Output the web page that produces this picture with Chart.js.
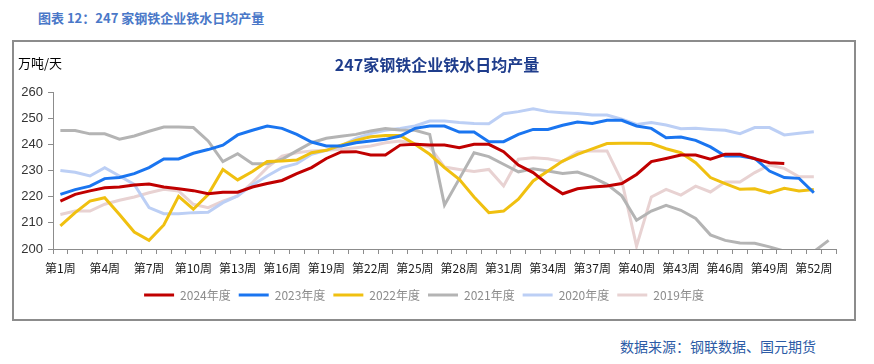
<!DOCTYPE html>
<html>
<head>
<meta charset="utf-8">
<script src="https://cdn.jsdelivr.net/npm/chart.js@4.4.1/dist/chart.umd.min.js"></script>
<style>
  body { margin: 0; background: #fff; }
  #page { position: relative; width: 874px; height: 364px; overflow: hidden; font-family: "Noto Sans CJK SC", sans-serif; }
  #figTitle { position: absolute; left: 38px; top: 8px; font-size: 13px; font-weight: bold; color: #4a78c8; }
  #frame { position: absolute; left: 12px; top: 40px; width: 844px; height: 281px; box-sizing: border-box; border: 2px solid #8c8c8c; }
  #chartBox { position: absolute; left: 12px; top: 40px; width: 844px; height: 281px; }
  #chartTitle { position: absolute; left: 0; width: 874px; top: 52px; text-align: center; font-size: 16px; font-weight: bold; color: #1f3d8c; }
  #unit { position: absolute; left: 18px; top: 53px; font-size: 13px; color: #000; }
  #source { position: absolute; left: 620px; top: 336px; font-size: 14px; color: #2c5ba6; }
</style>
</head>
<body>
<div id="page">
  <div id="figTitle">图表 12：247 家钢铁企业铁水日均产量</div>
  <div id="frame"></div>
  <div id="chartBox"><canvas id="ironChart" width="844" height="281"></canvas></div>
  <div id="chartTitle">247家钢铁企业铁水日均产量</div>
  <div id="unit">万吨/天</div>
  <div id="source">数据来源：钢联数据、国元期货</div>
</div>
<script>
// Weekly categories (week 53 only exists for 2021)
const weeks = [
    '第1周', '第2周', '第3周', '第4周', '第5周', '第6周', '第7周', '第8周', '第9周', '第10周',
    '第11周', '第12周', '第13周', '第14周', '第15周', '第16周', '第17周', '第18周', '第19周', '第20周',
    '第21周', '第22周', '第23周', '第24周', '第25周', '第26周', '第27周', '第28周', '第29周', '第30周',
    '第31周', '第32周', '第33周', '第34周', '第35周', '第36周', '第37周', '第38周', '第39周', '第40周',
    '第41周', '第42周', '第43周', '第44周', '第45周', '第46周', '第47周', '第48周', '第49周', '第50周',
    '第51周', '第52周', '第53周'
];

const yTicks = [200, 210, 220, 230, 240, 250, 260];

const y2024 = [
    218.3, 220.9, 222.2, 223.4, 223.7, 224.5, 224.8, 223.7, 223.0, 222.3,
    221.1, 221.7, 221.7, 223.7, 225.0, 226.2, 228.8, 231.1, 234.6, 237.1,
    237.2, 235.9, 235.9, 239.7, 240.0, 239.7, 239.7, 238.7, 240.0, 240.0,
    237.2, 232.1, 229.2, 224.7, 221.1, 223.0, 223.7, 224.1, 225.0, 228.5,
    233.4, 234.6, 235.9, 235.9, 234.3, 236.2, 236.2, 234.5, 233.0, 232.7
];
const y2023 = [
    220.9, 222.7, 224.0, 226.9, 227.3, 228.8, 231.1, 234.4, 234.4, 236.6,
    238.0, 239.7, 243.6, 245.4, 247.0, 246.1, 243.8, 240.9, 239.4, 239.4,
    240.6, 241.3, 241.9, 243.2, 246.1, 247.0, 247.0, 244.7, 244.7, 241.0,
    241.0, 243.8, 245.7, 245.7, 247.3, 248.5, 248.0, 249.2, 249.2, 247.0,
    246.1, 242.5, 242.8, 241.5, 239.0, 235.5, 235.5, 234.6, 229.8, 227.3,
    227.0, 221.5
];
const y2022 = [
    208.8, 213.9, 218.3, 219.6, 213.2, 206.5, 203.3, 209.2, 220.1, 215.2,
    220.8, 230.4, 226.4, 229.6, 233.4, 233.6, 234.0, 236.8, 237.7, 239.7,
    241.5, 242.9, 243.4, 243.4, 240.0, 236.2, 231.1, 226.6, 219.9, 213.9,
    214.5, 219.0, 226.0, 229.8, 233.6, 236.2, 238.3, 240.3, 240.4, 240.4,
    240.3, 238.3, 236.8, 233.0, 227.3, 225.0, 222.8, 223.0, 221.4, 223.2,
    222.2, 222.7
];
const y2021 = [
    245.3, 245.3, 244.0, 244.0, 242.0, 243.2, 245.0, 246.6, 246.6, 246.4,
    241.3, 233.4, 236.4, 232.6, 232.6, 234.3, 237.5, 240.6, 242.3, 243.1,
    243.8, 245.1, 246.0, 245.5, 245.4, 243.8, 216.8, 226.8, 236.8, 235.3,
    232.4, 229.5, 230.7, 229.8, 228.9, 229.4, 227.5, 224.7, 220.3, 211.0,
    214.5, 216.7, 214.8, 211.7, 205.4, 203.3, 202.3, 202.2, 200.8, 199.2,
    198.5, 199.0, 203.3
];
const y2020 = [
    230.0, 229.3, 227.9, 231.1, 227.9, 224.7, 215.8, 213.5, 213.5, 213.9,
    214.0, 217.7, 220.3, 224.5, 227.9, 231.1, 232.6, 236.2, 237.7, 239.4,
    242.3, 244.1, 245.4, 246.1, 247.0, 248.9, 248.9, 248.3, 248.0, 247.9,
    251.7, 252.5, 253.6, 252.5, 252.1, 251.8, 251.2, 251.2, 249.6, 247.6,
    248.3, 247.4, 246.0, 246.1, 245.7, 245.4, 244.1, 246.4, 246.4, 243.6,
    244.2, 244.8
];
const y2019 = [
    213.2, 214.5, 214.5, 217.1, 218.6, 219.9, 221.5, 222.8, 222.2, 217.1,
    215.8, 218.3, 220.3, 225.4, 231.1, 235.5, 236.8, 237.5, 237.7, 238.1,
    238.7, 239.4, 240.6, 241.3, 240.3, 239.0, 231.3, 230.4, 229.6, 230.4,
    224.1, 234.3, 234.9, 234.5, 233.4, 237.1, 237.5, 237.5, 226.0, 201.1,
    219.9, 222.8, 220.6, 224.0, 221.8, 225.6, 225.6, 229.2, 232.1, 230.8,
    227.6, 227.6
];

const seriesNames = ['2024年度', '2023年度', '2022年度', '2021年度', '2020年度', '2019年度'];
const seriesData = [y2024, y2023, y2022, y2021, y2020, y2019];
const seriesColors = ['#c00000', '#1a75f0', '#f0c010', '#b4b4b4', '#bccff5', '#e8d2d2'];

function buildDatasets() {
    return seriesNames.map((name, i) => ({
        label: name,
        data: seriesData[i],
        borderColor: seriesColors[i],
        backgroundColor: seriesColors[i],
        borderWidth: 3,
        pointRadius: 0,
        pointHoverRadius: 0,
        tension: 0,
        clip: 0
    }));
}

const ctx = document.getElementById('ironChart');
new Chart(ctx, {
    type: 'line',
    data: {
        labels: weeks,
        datasets: buildDatasets()
    },
    options: {
        responsive: false,
        animation: false,
        layout: {
            padding: { top: 52, right: 20, left: 0, bottom: 10 }
        },
        plugins: {
            title: { display: false },
            tooltip: { enabled: false },
            legend: {
                display: true,
                position: 'bottom',
                labels: {
                    usePointStyle: true,
                    pointStyle: 'line',
                    pointStyleWidth: 30,
                    padding: 8,
                    color: '#8c8c8c',
                    font: { family: '"Noto Sans CJK SC", sans-serif', size: 12 }
                }
            }
        },
        scales: {
            x: {
                offset: true,
                grid: {
                    display: true,
                    offset: true,
                    drawOnChartArea: false,
                    tickLength: 5,
                    color: '#8c8c8c'
                },
                border: { color: '#8c8c8c', width: 1 },
                ticks: {
                    autoSkip: false,
                    maxRotation: 0,
                    padding: 7,
                    color: '#1a1a1a',
                    font: { family: '"Noto Sans CJK SC", sans-serif', size: 12 },
                    callback: function(value, index) {
                        return index % 3 === 0 ? weeks[index] : '';
                    }
                },
                afterFit: function(scale) {
                    scale.height = 32;
                }
            },
            y: {
                min: 200,
                max: 260,
                afterBuildTicks: function(scale) {
                    scale.ticks = yTicks.map(v => ({ value: v }));
                },
                grid: {
                    display: true,
                    drawOnChartArea: false,
                    tickLength: 5,
                    color: '#8c8c8c'
                },
                border: { color: '#8c8c8c', width: 1 },
                ticks: {
                    padding: 5,
                    color: '#333333',
                    font: { family: '"Liberation Sans", Arial, sans-serif', size: 13 }
                },
                afterFit: function(scale) {
                    scale.width = 41;
                }
            }
        }
    }
});
</script>
</body>
</html>
